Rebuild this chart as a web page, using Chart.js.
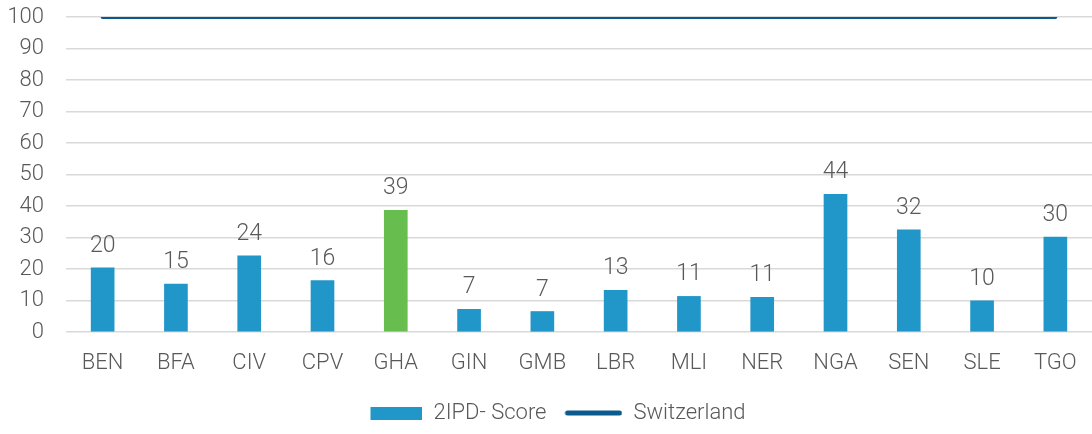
<!DOCTYPE html>
<html>
<head>
<meta charset="utf-8">
<script src="https://cdn.jsdelivr.net/npm/chart.js@4"></script>
<style>
    html, body { margin: 0; padding: 0; background: #fff; }
    #wrap { width: 1092px; height: 434px; }
</style>
</head>
<body>
<div id="wrap"><canvas id="chart"></canvas></div>
<script>
const countries = ['BEN', 'BFA', 'CIV', 'CPV', 'GHA', 'GIN', 'GMB', 'LBR', 'MLI', 'NER', 'NGA', 'SEN', 'SLE', 'TGO'];
const scores = [20.4, 15.2, 24.2, 16.3, 38.6, 7.2, 6.5, 13.2, 11.3, 11.0, 43.7, 32.4, 9.9, 30.1];
const switzerland = [100, 100, 100, 100, 100, 100, 100, 100, 100, 100, 100, 100, 100, 100];
const yTicks = [0, 10, 20, 30, 40, 50, 60, 70, 80, 90, 100];

const barBlue = '#2196c8';
const ghaGreen = '#68bd4f';
const lineBlue = '#0b5a8e';
const textGrey = '#595959';

Chart.defaults.font.family = 'Roboto';
Chart.defaults.font.weight = 300;
Chart.defaults.color = textGrey;

// legend swatches, both the same box width, content pushed to the right
function swatch(w, h, draw) {
    const c = document.createElement('canvas');
    c.width = w;
    c.height = h;
    draw(c.getContext('2d'));
    return c;
}
const barSwatch = swatch(76, 13, ctx => {
    ctx.fillStyle = barBlue;
    ctx.fillRect(24, 0, 52, 13);
});
const lineSwatch = swatch(76, 8, ctx => {
    ctx.strokeStyle = lineBlue;
    ctx.lineWidth = 5;
    ctx.lineCap = 'round';
    ctx.beginPath();
    ctx.moveTo(21, 4);
    ctx.lineTo(73, 4);
    ctx.stroke();
});

const barLabels = {
    id: 'barLabels',
    afterDatasetsDraw(chart) {
        const ctx = chart.ctx;
        const meta = chart.getDatasetMeta(0);
        ctx.save();
        ctx.font = '300 23px Roboto';
        ctx.fillStyle = textGrey;
        ctx.textAlign = 'center';
        ctx.textBaseline = 'alphabetic';
        meta.data.forEach((bar, i) => {
            ctx.fillText(Math.round(scores[i]), bar.x, bar.y - 16);
        });
        ctx.restore();
    },
};

new Chart(document.getElementById('chart'), {
    data: {
        labels: countries,
        datasets: [
            {
                type: 'bar',
                label: '2IPD- Score',
                data: scores,
                backgroundColor: countries.map(c => (c === 'GHA' ? ghaGreen : barBlue)),
                barThickness: 23,
                order: 2,
            },
            {
                type: 'line',
                label: 'Switzerland',
                data: switzerland,
                borderColor: lineBlue,
                backgroundColor: lineBlue,
                borderWidth: 4,
                borderCapStyle: 'round',
                pointRadius: 0,
                order: 1,
            },
        ],
    },
    options: {
        responsive: true,
        maintainAspectRatio: false,
        animation: false,
        layout: { padding: 0 },
        scales: {
            x: {
                grid: { display: false },
                border: { display: false },
                ticks: { font: { size: 22 }, padding: 10 },
                afterFit: axis => {
                    axis.paddingLeft = 0;
                    axis.paddingRight = 0;
                    axis.height = 70;
                },
            },
            y: {
                min: 0,
                max: 100,
                afterBuildTicks: axis => {
                    axis.ticks = yTicks.map(v => ({ value: v }));
                },
                grid: { color: '#d9d9d9', lineWidth: 1.5, drawTicks: false },
                border: { display: false },
                ticks: { font: { size: 22 }, padding: 22 },
                afterFit: axis => {
                    axis.paddingTop = 17;
                    axis.paddingBottom = 12;
                    axis.width = 66;
                },
            },
        },
        plugins: {
            tooltip: { enabled: false },
            legend: {
                position: 'bottom',
                onClick: () => {},
                labels: {
                    usePointStyle: true,
                    pointStyleWidth: 76,
                    padding: 0,
                    font: { size: 22 },
                    generateLabels: chart =>
                        chart.data.datasets.map((ds, i) => ({
                            text: ds.label,
                            pointStyle: i === 0 ? barSwatch : lineSwatch,
                            fillStyle: 'transparent',
                            strokeStyle: 'transparent',
                            lineWidth: 0,
                            fontColor: textGrey,
                            datasetIndex: i,
                        })),
                },
            },
        },
    },
    plugins: [barLabels],
});
</script>
</body>
</html>
